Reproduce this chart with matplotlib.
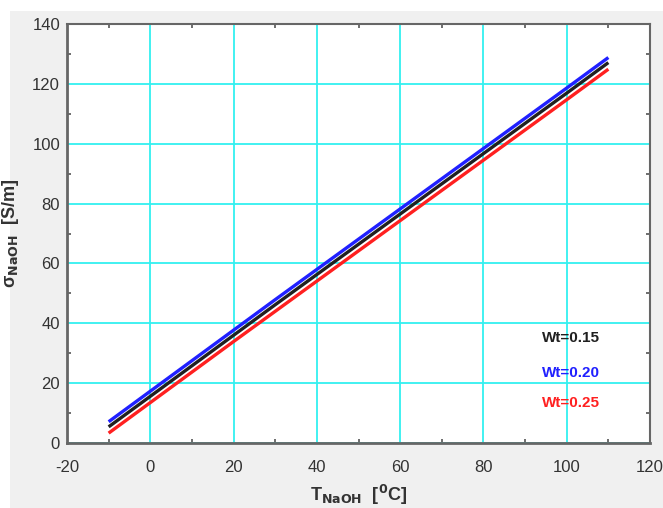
import matplotlib
matplotlib.use("Agg")
import matplotlib.pyplot as plt
from matplotlib.patches import Rectangle
from matplotlib.ticker import MultipleLocator

# Data
temp = [-10, 0, 10, 20, 30, 40, 50, 60, 70, 80, 90, 100, 110]
wt015 = [5.4, 15.6, 25.8, 36.0, 46.2, 56.3, 66.4, 76.5, 86.6, 96.7, 106.8, 116.9, 127.1]
wt020 = [7.1, 17.3, 27.5, 37.7, 47.9, 58.0, 68.1, 78.2, 88.3, 98.4, 108.5, 118.6, 128.8]
wt025 = [3.3, 13.5, 23.7, 33.9, 44.0, 54.1, 64.2, 74.3, 84.4, 94.5, 104.6, 114.7, 124.9]

series = [("Wt=0.15", wt015, "#202020"), ("Wt=0.20", wt020, "#2020ff"), ("Wt=0.25", wt025, "#ff2020")]
label_y = [35, 23.3, 13.3]

plt.rcParams["font.family"] = ["Liberation Sans", "DejaVu Sans"]
plt.rcParams["axes.unicode_minus"] = False

fig = plt.figure(figsize=(6.63, 5.08), dpi=100, facecolor="white")
bg = fig.add_axes([0, 0, 1, 1])
bg.set_axis_off()
bg.add_patch(Rectangle((10 / 663, 0), 1, 1 - 11 / 508, facecolor="#f0f0f0", edgecolor="none"))

ax = fig.add_axes([67 / 663, (508 - 443) / 508, (650 - 67) / 663, (443 - 24) / 508])
ax.set_facecolor("white")
ax.set_xlim(-20, 120)
ax.set_ylim(0, 140)
ax.xaxis.set_major_locator(MultipleLocator(20))
ax.yaxis.set_major_locator(MultipleLocator(20))
ax.xaxis.set_minor_locator(MultipleLocator(10))
ax.yaxis.set_minor_locator(MultipleLocator(10))
ax.grid(which="major", color="#33f0f0", linewidth=1.3)
ax.set_axisbelow(True)
ax.tick_params(which="both", direction="in", top=True, right=True, colors="#555555",
               labelcolor="#333333", labelsize=12)
ax.tick_params(which="major", length=0)
ax.tick_params(axis="x", which="major", pad=12)
ax.tick_params(axis="y", which="major", pad=5)
ax.tick_params(which="minor", length=3, width=1.2)
for s in ax.spines.values():
    s.set_color("#666666")
    s.set_linewidth(1.5)
ax.spines["left"].set_linewidth(2)
ax.spines["bottom"].set_linewidth(2)

for name, vals, col in series:
    ax.plot(temp, vals, color=col, linewidth=2.4, solid_capstyle="butt")

for (name, vals, col), ly in zip(series, label_y):
    ax.text(101, ly, name, color=col, fontsize=11, fontweight="bold", ha="center", va="center")

ax.set_xlabel(r"T$_{\mathbf{NaOH}}$  [$^{\mathbf{0}}$C]", fontsize=13, fontweight="bold",
              color="#333333", labelpad=6)
ax.set_ylabel(r"σ$_{\mathbf{NaOH}}$  [S/m]", fontsize=13, fontweight="bold",
              color="#333333", labelpad=8)

fig.savefig("out.png", dpi=100, facecolor=fig.get_facecolor())
